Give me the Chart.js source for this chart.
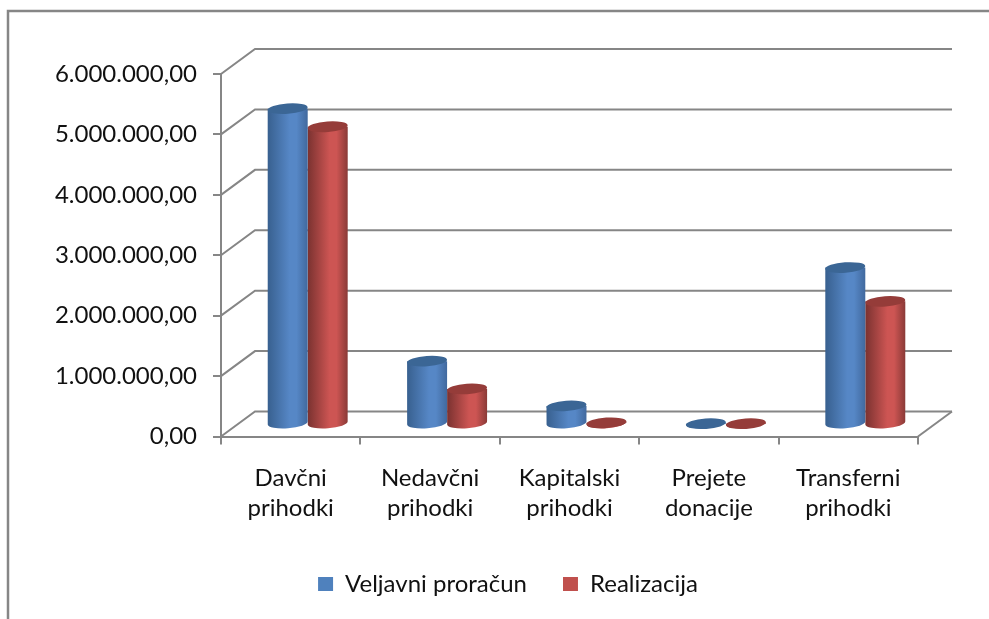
<!DOCTYPE html>
<html>
<head>
<meta charset="utf-8">
<script src="https://cdn.jsdelivr.net/npm/chart.js@4/dist/chart.umd.min.js"></script>
<style>
    html, body { margin: 0; padding: 0; background: #fff; }
    #wrap { position: relative; width: 989px; height: 619px; }
</style>
</head>
<body>
<div id="wrap"><canvas id="chart" role="img" aria-label="Veljavni proračun in realizacija po vrstah prihodkov"></canvas></div>
<script>
    // values
    var categories = [['Davčni', 'prihodki'], ['Nedavčni', 'prihodki'], ['Kapitalski', 'prihodki'], ['Prejete', 'donacije'], ['Transferni', 'prihodki']];
    var veljavniProracun = [5220000, 1040000, 300000, 5000, 2590000];
    var realizacija = [4920000, 580000, 20000, 5000, 2030000];
    var tickLabels = ['0,00', '1.000.000,00', '2.000.000,00', '3.000.000,00', '4.000.000,00', '5.000.000,00', '6.000.000,00'];

    var LINE = '#868686';
    var TEXT = '#111';
    var FONT = 'Lato, sans-serif';
    var DEPTH_X = 34, DEPTH_Y = 25;
    var looks = [
        {edge: '#38608f', mid: '#5687c6', right: '#41699e', top: '#3b6695'},
        {edge: '#7a3230', mid: '#cd5553', right: '#8a3a37', top: '#953c39'}
    ];

    // outer frame, only the top and left edges are visible
    var framePlugin = {
        id: 'frame',
        beforeDraw: function(chart) {
            var c = chart.ctx;
            c.save();
            c.strokeStyle = LINE;
            c.lineWidth = 2.5;
            c.beginPath();
            c.moveTo(8, 619);
            c.lineTo(8, 11);
            c.lineTo(989, 11);
            c.stroke();
            c.restore();
        }
    };

    // back wall grid and floor of the 3d box
    var wallPlugin = {
        id: 'wall',
        beforeDatasetsDraw: function(chart) {
            var c = chart.ctx, a = chart.chartArea, y = chart.scales.y;
            c.save();
            c.strokeStyle = LINE;
            c.lineWidth = 2;
            y.ticks.forEach(function(t) {
                var py = y.getPixelForValue(t.value);
                c.beginPath();
                c.moveTo(a.left, py);
                c.lineTo(a.left + DEPTH_X, py - DEPTH_Y);
                c.lineTo(a.right + DEPTH_X, py - DEPTH_Y);
                c.stroke();
            });
            c.beginPath();
            c.moveTo(a.right, a.bottom);
            c.lineTo(a.right + DEPTH_X, a.bottom - DEPTH_Y);
            c.stroke();
            c.restore();
        }
    };

    // cylinders instead of flat bars, sitting in the middle of the box depth
    var cylinderPlugin = {
        id: 'cylinder',
        beforeDatasetDraw: function(chart, args) {
            var c = chart.ctx, look = looks[args.index];
            args.meta.data.forEach(function(bar) {
                var x = bar.x + DEPTH_X / 2, rx = bar.width / 2, ry = 5.2, tilt = -0.07;
                var top = bar.y - DEPTH_Y / 2, base = bar.base - DEPTH_Y / 2;
                var g = c.createLinearGradient(x - rx, 0, x + rx, 0);
                g.addColorStop(0, look.edge);
                g.addColorStop(0.55, look.mid);
                g.addColorStop(0.72, look.mid);
                g.addColorStop(1, look.right);
                c.save();
                c.fillStyle = g;
                c.beginPath();
                c.ellipse(x, base, rx, ry, tilt, 0, Math.PI);
                c.lineTo(x - rx, top);
                c.lineTo(x + rx, top);
                c.closePath();
                c.fill();
                c.fillStyle = look.top;
                c.beginPath();
                c.ellipse(x, top, rx, ry, tilt, 0, Math.PI * 2);
                c.fill();
                c.restore();
            });
            return false;
        }
    };

    // the legend is not centred on the canvas in the reference
    var legendPlugin = {
        id: 'legendShift',
        afterLayout: function(chart) {
            var lg = chart.legend;
            lg.left += 49;
            lg.right += 49;
            lg.top -= 13;
            lg.bottom -= 13;
        }
    };

    new Chart(document.getElementById('chart'), {
        type: 'bar',
        data: {
            labels: categories,
            datasets: [
                {label: 'Veljavni proračun', data: veljavniProracun, backgroundColor: '#4f81bd'},
                {label: 'Realizacija', data: realizacija, backgroundColor: '#c0504d'}
            ]
        },
        options: {
            responsive: true,
            maintainAspectRatio: false,
            animation: false,
            categoryPercentage: 0.574,
            barPercentage: 1,
            layout: {padding: {top: 74, right: 71, left: 0, bottom: 0}},
            plugins: {
                tooltip: {enabled: false},
                legend: {
                    position: 'bottom',
                    labels: {
                        boxWidth: 15,
                        boxHeight: 14,
                        padding: 36,
                        color: TEXT,
                        font: {family: FONT, size: 24}
                    }
                }
            },
            scales: {
                x: {
                    afterFit: function(scale) { scale.height = 619 - 436.5 - scale.chart.legend.height; },
                    border: {color: LINE, width: 2},
                    grid: {drawOnChartArea: false, color: LINE, lineWidth: 2, tickLength: 8},
                    ticks: {padding: 18, color: TEXT, maxRotation: 0, autoSkip: false, font: {family: FONT, size: 24, lineHeight: 1.28}}
                },
                y: {
                    min: 0,
                    max: 6000000,
                    afterFit: function(scale) { scale.width = 221; },
                    border: {color: LINE, width: 2},
                    grid: {drawOnChartArea: false, color: LINE, lineWidth: 2, tickLength: 8},
                    ticks: {
                        stepSize: 1000000,
                        padding: 16,
                        color: TEXT,
                        font: {family: FONT, size: 24},
                        callback: function(value, index) { return tickLabels[index]; }
                    }
                }
            }
        },
        plugins: [framePlugin, wallPlugin, cylinderPlugin, legendPlugin]
    });
</script>
</body>
</html>
